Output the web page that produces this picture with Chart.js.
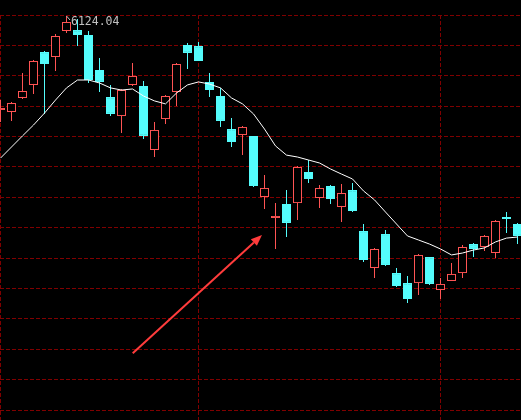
<!DOCTYPE html>
<html><head><meta charset="utf-8">
<script src="https://cdn.jsdelivr.net/npm/chart.js@4.4.0/dist/chart.umd.min.js"></script>
<style>html,body{margin:0;padding:0;background:#000;overflow:hidden}canvas{display:block}</style>
</head><body>
<canvas id="c" width="521" height="420"></canvas>
<script>
const dates = ['2007-10-08','2007-10-09','2007-10-10','2007-10-11','2007-10-12','2007-10-15','2007-10-16','2007-10-17','2007-10-18','2007-10-19','2007-10-22','2007-10-23','2007-10-24','2007-10-25','2007-10-26','2007-10-29','2007-10-30','2007-10-31',
'2007-11-01','2007-11-02','2007-11-05','2007-11-06','2007-11-07','2007-11-08','2007-11-09','2007-11-12','2007-11-13','2007-11-14','2007-11-15','2007-11-16','2007-11-19','2007-11-20','2007-11-21','2007-11-22','2007-11-23','2007-11-26','2007-11-27','2007-11-28','2007-11-29','2007-11-30',
'2007-12-03','2007-12-04','2007-12-05','2007-12-06','2007-12-07','2007-12-10','2007-12-11','2007-12-12'];
const openP  = [5683,5674,5740,5801,5955,5932,6054,6058,6035,5871,5744,5655,5801,5796,5496,5641,5768,5988,5983,5815,5749,5594,5566,5562,5276,5177,5243,5247,5393,5271,5327,5229,5308,5116,4943,5102,4919,4872,4872,4994,4840,4882,4919,5055,5041,5013,5182,5149];
const highP  = [5730,5721,5857,5918,5960,6040,6124.04,6110,6054,5927,5801,5782,5904,5819,5627,5754,5904,5997,6002,5857,5787,5646,5608,5562,5379,5247,5308,5421,5449,5332,5332,5337,5341,5149,5037,5121,4943,4905,5008,4994,4896,4966,5051,5060,5097,5168,5205,5154];
const lowP   = [5627,5632,5735,5758,5665,5866,6044,5983,5810,5768,5655,5576,5796,5547,5463,5618,5702,5876,5913,5744,5604,5510,5472,5322,5219,5032,5088,5168,5341,5224,5243,5158,5205,4971,4896,4952,4854,4778.73,4816,4863,4797,4882,4896,4994,5022,4990,5107,5055];
const closeP = [5693,5716,5772,5913,5899,6030,6096,6035,5824,5815,5665,5777,5843,5562,5590,5749,5899,5951,5913,5777,5632,5533,5604,5327,5318,5187,5154,5416,5360,5318,5266,5294,5210,4980,5032,4957,4858,4797,5004,4868,4868,4915,5041,5032,5093,5163,5172,5093];
const maLine = [5458,5510,5562,5613,5669,5730,5787,5824,5824,5810,5787,5777,5782,5749,5726,5712,5763,5801,5815,5805,5787,5740,5712,5665,5594,5515,5472,5463,5449,5435,5407,5383,5360,5304,5262,5205,5149,5093,5074,5055,5032,5004,5013,5027,5037,5065,5083,5088];
const priceGridLevels = [6126.38,5985.76,5845.13,5699.82,5559.2,5418.57,5273.26,5132.63,4987.32,4846.7,4706.07,4560.76,4420.13,4274.82];
const arrowFrom = {x: 12.02, y: 4543};
const arrowTo = {x: 23.77, y: 5097};

const UP = '#ff5454', DOWN = '#54fcfc', GRID = '#800000';
const isUp = dates.map((d,i)=>closeP[i] >= openP[i]);
const monthStarts = dates.map((d,i)=> (i===0 || d.slice(0,7)!==dates[i-1].slice(0,7)) ? i : -1).filter(i=>i>=0);
const maxIdx = highP.indexOf(Math.max(...highP));

const labelPlugin = {
  id: 'annot',
  afterDatasetsDraw(chart) {
    const {ctx, scales:{x, y}} = chart;
    ctx.save();
    // max label
    const hx = x.getPixelForValue(maxIdx), hy = y.getPixelForValue(highP[maxIdx]);
    ctx.strokeStyle = '#c0c0c0'; ctx.lineWidth = 1;
    ctx.beginPath(); ctx.moveTo(hx, hy); ctx.lineTo(hx+3.5, hy+4); ctx.stroke();
    ctx.fillStyle = '#c0c0c0';
    ctx.font = '11.5px "DejaVu Sans Mono", monospace';
    ctx.textBaseline = 'alphabetic';
    ctx.fillText(highP[maxIdx].toFixed(2), Math.round(hx+4.5), Math.round(hy+9));
    // arrow
    const x1 = x.getPixelForValue(arrowFrom.x), y1 = y.getPixelForValue(arrowFrom.y);
    const x2 = x.getPixelForValue(arrowTo.x), y2 = y.getPixelForValue(arrowTo.y);
    const ang = Math.atan2(y2-y1, x2-x1), hl = 11, hw = 4.5;
    const bx = x2 - hl*Math.cos(ang), by = y2 - hl*Math.sin(ang);
    ctx.strokeStyle = '#ff3c3c'; ctx.fillStyle = '#ff3c3c'; ctx.lineWidth = 2;
    ctx.beginPath(); ctx.moveTo(x1,y1); ctx.lineTo(bx,by); ctx.stroke();
    ctx.beginPath();
    ctx.moveTo(x2,y2);
    ctx.lineTo(bx + hw*Math.sin(ang), by - hw*Math.cos(ang));
    ctx.lineTo(bx - hw*Math.sin(ang), by + hw*Math.cos(ang));
    ctx.closePath(); ctx.fill();
    ctx.restore();
  }
};

new Chart(document.getElementById('c'), {
  type: 'bar',
  data: {
    labels: dates,
    datasets: [
      { type: 'line', data: maLine.map((v,i)=>({x:i, y:v})), borderColor: '#ffffff', borderWidth: 1, pointRadius: 0, tension: 0, fill: false },
      { data: dates.map((d,i)=>({x:i, y:[openP[i], closeP[i]]})), backgroundColor: isUp.map(u=>u?'#000000':DOWN), borderColor: isUp.map(u=>u?UP:DOWN), borderWidth: 1, borderSkipped: false, barThickness: 9, grouped: false, inflateAmount: 0 },
      { data: dates.map((d,i)=>({x:i, y:[lowP[i], highP[i]]})), backgroundColor: isUp.map(u=>u?UP:DOWN), borderWidth: 0, barThickness: 1, grouped: false, inflateAmount: 0 }
    ]
  },
  options: {
    responsive: false, animation: false,
    layout: { padding: { top: 15, left: 0, right: 0, bottom: 0 } },
    plugins: { legend: { display: false }, tooltip: { enabled: false } },
    scales: {
      x: { type: 'linear', min: -0.0455, max: 47.318, offset: false,
        afterBuildTicks: s => { s.ticks = monthStarts.map(v=>({value:v})); },
        ticks: { display: false }, border: { display: false, dash: [4,2] },
        grid: { color: GRID, lineWidth: 1, drawTicks: false, offset: false } },
      y: { type: 'linear', min: 4230.29, max: 6128.73,
        afterBuildTicks: s => { s.ticks = priceGridLevels.map(v=>({value:v})); },
        ticks: { display: false }, border: { display: false, dash: [4,2] },
        grid: { color: GRID, lineWidth: 1, drawTicks: false } }
    }
  },
  plugins: [labelPlugin]
});
</script>
</body></html>
